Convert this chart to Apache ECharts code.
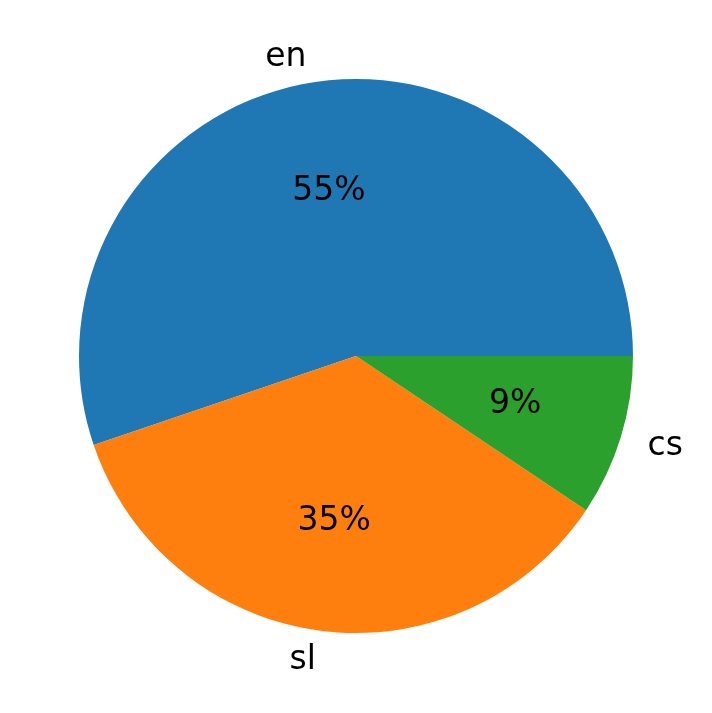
<!DOCTYPE html>
<html><head><meta charset="utf-8">
<script src="https://cdn.jsdelivr.net/npm/echarts@6/dist/echarts.min.js"></script>
<style>html,body{margin:0;padding:0;background:#fff}#c{width:712px;height:713px}</style>
</head><body><div id="c"></div>
<script>
var categories = ['en', 'sl', 'cs'];
var values = [55.2, 35.4, 9.4];
var colors = ['#1f77b4', '#ff7f0e', '#2ca02c'];

var total = values.reduce(function(a, b){ return a + b; }, 0);
var R = 277;
var data = categories.map(function(c, i){ return {name: c, value: values[i], itemStyle: {color: colors[i]}}; });
var dataT = categories.map(function(c, i){ return {name: c, value: values[i], itemStyle: {color: 'rgba(0,0,0,0)'}}; });
var font = 'DejaVu Sans';
var chart = echarts.init(document.getElementById('c'), null, {renderer: 'canvas'});
chart.setOption({
  animation: false,
  series: [
    {
      type: 'pie', center: [356, 356], radius: [0, R], startAngle: 0, clockwise: false,
      avoidLabelOverlap: false, silent: true,
      itemStyle: {borderWidth: 0},
      label: {show: true, position: 'outside', formatter: '{b}', color: '#000', fontFamily: font, fontSize: 33, distanceToLabelLine: 0, offset: [0, 2]},
      labelLine: {show: false, length: R * 0.1, length2: 0},
      data: data
    },
    {
      type: 'pie', center: [356, 356], radius: [0, R * 1.18], startAngle: 0, clockwise: false,
      avoidLabelOverlap: false, silent: true,
      itemStyle: {borderWidth: 0},
      label: {show: true, position: 'inside', color: '#000', fontFamily: font, fontSize: 33,
        formatter: function(p){ return Math.round(p.value / total * 100) + '%'; }},
      labelLine: {show: false},
      data: dataT
    }
  ]
});
</script></body></html>
